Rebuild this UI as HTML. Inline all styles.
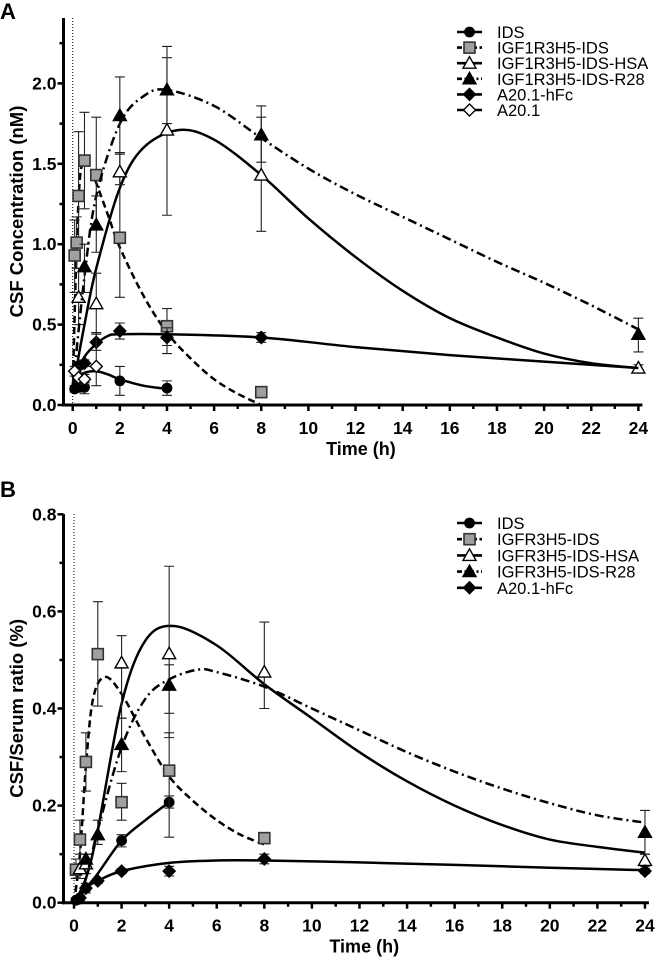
<!DOCTYPE html>
<html><head><meta charset="utf-8">
<style>
html,body{margin:0;padding:0;background:#fff;}
svg{display:block;font-family:"Liberation Sans",Arial,sans-serif;}
</style></head>
<body>
<svg id="chart" width="655" height="961" viewBox="0 0 655 961"></svg>
<script>
// ---------- Panel A data ----------
const aIDS_t=[0.083,0.25,0.5,2,4], aIDS_v=[0.10,0.11,0.11,0.15,0.105], aIDS_hi=[0.12,0.13,0.14,0.24,0.15], aIDS_lo=[0.08,0.08,0.07,0.06,0.06];
const aIDS_ct=[0,0.25,0.5,1,1.5,2,3,4], aIDS_cv=[0.1,0.17,0.2,0.21,0.19,0.16,0.12,0.10];
const aSQ_t=[0.083,0.167,0.25,0.5,1,2,4,8], aSQ_v=[0.93,1.01,1.30,1.52,1.43,1.04,0.49,0.08], aSQ_hi=[1.15,1.17,1.70,1.82,1.79,1.57,0.60,0.08], aSQ_lo=[0.7,0.85,1.0,1.22,1.1,0.67,0.37,0.08];
const aSQ_ct=[0,0.15,0.3,0.5,0.7,1,1.5,2,3,4,5,6,7,8], aSQ_cv=[0.1,0.9,1.4,1.52,1.48,1.38,1.18,0.98,0.68,0.45,0.29,0.16,0.07,0.0];
const aHSA_t=[0.25,1,2,4,8,24], aHSA_v=[0.67,0.63,1.45,1.71,1.43,0.23], aHSA_hi=[0.85,0.82,1.57,2.16,1.79,0.25], aHSA_lo=[0.5,0.45,1.37,1.18,1.08,0.21];
const aHSA_ct=[0,0.5,1,2,3,4.5,6,8,10,12,14,16,18,20,22,24], aHSA_cv=[0.1,0.5,0.85,1.35,1.6,1.71,1.65,1.43,1.16,0.92,0.71,0.54,0.42,0.32,0.26,0.23];
const aR28_t=[0.5,1,2,4,8,24], aR28_v=[0.86,1.12,1.80,1.96,1.68,0.44], aR28_hi=[1.0,1.3,2.04,2.23,1.86,0.54], aR28_lo=[0.7,0.95,1.56,1.75,1.51,0.33];
const aR28_ct=[0,0.5,1,2,3,4,6,8,10,12,14,16,18,20,22,24], aR28_cv=[0.1,0.8,1.3,1.75,1.92,1.96,1.86,1.66,1.47,1.31,1.17,1.03,0.89,0.76,0.62,0.47];
const aFC_t=[0.25,0.5,1,2,4,8], aFC_v=[0.24,0.26,0.39,0.46,0.42,0.42], aFC_hi=[0.26,0.28,0.44,0.51,0.48,0.45], aFC_lo=[0.22,0.24,0.34,0.41,0.32,0.39];
const aFC_ct=[0,0.5,1,1.5,2,4,8,12,16,20,24], aFC_cv=[0.15,0.3,0.38,0.43,0.44,0.44,0.42,0.36,0.31,0.27,0.23];
const aA20_t=[0.083,0.25,0.5,1], aA20_v=[0.21,0.17,0.16,0.24], aA20_hi=[0.24,0.2,0.19,0.45], aA20_lo=[0.18,0.14,0.13,0.12];
const aTicksY=[0,0.5,1.0,1.5,2.0], aTickLabelsY=["0.0","0.5","1.0","1.5","2.0"];
const xTicks=[0,2,4,6,8,10,12,14,16,18,20,22,24];
const aLegend=["IDS","IGF1R3H5-IDS","IGF1R3H5-IDS-HSA","IGF1R3H5-IDS-R28","A20.1-hFc","A20.1"];
// ---------- Panel B data ----------
const bIDS_t=[0.083,0.25,0.5,2,4], bIDS_v=[0.005,0.01,0.03,0.128,0.207], bIDS_hi=[0.01,0.015,0.04,0.14,0.22], bIDS_lo=[0,0.005,0.02,0.115,0.195];
const bIDS_ct=[0,0.5,1,2,3,4], bIDS_cv=[0,0.03,0.06,0.128,0.17,0.207];
const bSQ_t=[0.083,0.25,0.5,1,2,4,8], bSQ_v=[0.068,0.13,0.29,0.512,0.207,0.272,0.133], bSQ_hi=[0.09,0.17,0.35,0.62,0.246,0.35,0.133], bSQ_lo=[0.05,0.1,0.23,0.405,0.17,0.135,0.133];
const bSQ_ct=[0,0.25,0.5,0.8,1.3,2,3,4,5,6,7,8], bSQ_cv=[0,0.1,0.28,0.42,0.465,0.43,0.34,0.26,0.21,0.17,0.14,0.12];
const bHSA_t=[0.25,0.5,2,4,8,24], bHSA_v=[0.07,0.08,0.494,0.513,0.475,0.087], bHSA_hi=[0.09,0.1,0.55,0.693,0.578,0.1], bHSA_lo=[0.05,0.06,0.38,0.34,0.4,0.075];
const bHSA_ct=[0,0.5,1,2,3,4.2,6,8,10,12,14,16,18,20,22,24], bHSA_cv=[0,0.05,0.15,0.41,0.54,0.57,0.53,0.45,0.38,0.31,0.25,0.2,0.16,0.13,0.115,0.103];
const bR28_t=[0.5,1,2,4,24], bR28_v=[0.09,0.14,0.326,0.448,0.145], bR28_hi=[0.1,0.17,0.38,0.49,0.19], bR28_lo=[0.08,0.12,0.27,0.39,0.1];
const bR28_ct=[0,0.5,1,2,3,4,5.2,6,8,10,12,14,16,18,20,22,24], bR28_cv=[0,0.05,0.15,0.32,0.42,0.46,0.48,0.475,0.445,0.40,0.355,0.31,0.27,0.235,0.205,0.18,0.165];
const bFC_t=[0.25,0.5,1,2,4,8,24], bFC_v=[0.01,0.03,0.045,0.065,0.065,0.09,0.065], bFC_hi=[0.015,0.035,0.05,0.07,0.075,0.1,0.07], bFC_lo=[0.005,0.025,0.04,0.06,0.055,0.08,0.06];
const bFC_ct=[0,0.5,1,2,4,6,8,12,16,20,24], bFC_cv=[0,0.03,0.045,0.065,0.082,0.087,0.087,0.083,0.078,0.072,0.067];
const bTicksY=[0,0.2,0.4,0.6,0.8], bTickLabelsY=["0.0","0.2","0.4","0.6","0.8"];
const bLegend=["IDS","IGFR3H5-IDS","IGFR3H5-IDS-HSA","IGFR3H5-IDS-R28","A20.1-hFc"];

const NS="http://www.w3.org/2000/svg";
const svg=document.getElementById('chart');
function el(tag,attrs,parent){const e=document.createElementNS(NS,tag);for(const k in attrs)e.setAttribute(k,attrs[k]);(parent||svg).appendChild(e);return e;}

function smoothPath(pts){
  let d="M"+pts[0][0]+","+pts[0][1];
  for(let i=0;i<pts.length-1;i++){
    const p0=pts[i-1]||pts[i],p1=pts[i],p2=pts[i+1],p3=pts[i+2]||p2;
    const c1x=p1[0]+(p2[0]-p0[0])/6,c1y=p1[1]+(p2[1]-p0[1])/6;
    const c2x=p2[0]-(p3[0]-p1[0])/6,c2y=p2[1]-(p3[1]-p1[1])/6;
    d+=` C${c1x},${c1y} ${c2x},${c2y} ${p2[0]},${p2[1]}`;
  }
  return d;
}
function marker(g,type,x,y){
  let m;
  if(type==="circle")m=el('circle',{cx:x,cy:y,r:5.4,fill:'#000'},g);
  else if(type==="square")m=el('rect',{x:x-5.5,y:y-5.5,width:11,height:11,fill:'#a0a0a0',stroke:'#333','stroke-width':1.6},g);
  else if(type==="tri-open"||type==="tri")m=el('polygon',{points:`${x},${y-6.5} ${x+6.5},${y+5} ${x-6.5},${y+5}`,fill:type==="tri"?'#000':'#fff',stroke:'#000','stroke-width':1.4},g);
  else m=el('polygon',{points:`${x},${y-6} ${x+6},${y} ${x},${y+6} ${x-6},${y}`,fill:type==="dia"?'#000':'#fff',stroke:'#000','stroke-width':1.4},g);
  return m;
}
const dashes={solid:null,dash:"7,4",dashdot:"9,4,2,4"};

function panel(o){
  const g=el('g',{});
  
  
  const X=t=>o.x0+t*o.xs, Y=v=>o.y0-v*o.ys;
  const lbl=el('text',{x:0,y:o.labelY,'font-size':22,'font-weight':'bold'},g);lbl.textContent=o.letter;
  
  const dl=el('line',{x1:X(0),x2:X(0),y1:o.top,y2:o.y0,stroke:'#000','stroke-width':1,'stroke-dasharray':'1,2'},g);
  
  const ya=el('line',{x1:o.ax,x2:o.ax,y1:o.top,y2:o.y0+1.5,stroke:'#000','stroke-width':3},g);
  
  const xa=el('line',{x1:o.ax-1.5,x2:X(24)+4,y1:o.y0,y2:o.y0,stroke:'#000','stroke-width':3},g);
  
  o.yticks.forEach((v,i)=>{
    el('line',{x1:o.ax-6,x2:o.ax,y1:Y(v),y2:Y(v),stroke:'#000','stroke-width':2.5},g);
    const t=el('text',{x:o.ax-7,y:Y(v)+6,'font-size':17.5,'font-weight':'bold','text-anchor':'end'},g);t.textContent=o.ylabels[i];
    
  });
  for(let v=o.minor;v<=o.ymaxTick+1e-9;v+=o.minor*2){
    el('line',{x1:o.ax-4,x2:o.ax,y1:Y(v),y2:Y(v),stroke:'#000','stroke-width':2.5},g);
  }
  for(let t=0;t<=24;t++){
    el('line',{x1:X(t),x2:X(t),y1:o.y0,y2:o.y0+(t%2?4:6),stroke:'#000','stroke-width':2.5},g);
  }
  xTicks.forEach(t=>{
    const tx=el('text',{x:X(t),y:o.y0+29,'font-size':17.5,'font-weight':'bold','text-anchor':'middle'},g);tx.textContent=t;
    
  });
  const xt=el('text',{x:(o.ax+X(24))/2+10,y:o.y0+50,'font-size':18,'font-weight':'bold','text-anchor':'middle'},g);xt.textContent="Time (h)";
  
  const cy=(o.top+o.y0)/2;
  const yt=el('text',{x:0,y:0,'font-size':18.5,'font-weight':'bold','text-anchor':'middle',transform:`translate(${o.ytx},${cy}) rotate(-90)`},g);yt.textContent=o.ytitle;
  
  o.series.forEach(s=>{
    const sg=el('g',{},g);
    
    
    if(s.ct){
      const p=el('path',{d:smoothPath(s.ct.map((t,i)=>[X(t),Y(s.cv[i])])),fill:'none',stroke:'#000','stroke-width':2.5},sg);
      if(dashes[s.dash])p.setAttribute('stroke-dasharray',dashes[s.dash]);
      
    }
    s.t.forEach((t,i)=>{
      const x=X(t);
      const eb=el('path',{d:`M${x},${Y(s.hi[i])}V${Y(s.lo[i])}M${x-5},${Y(s.hi[i])}H${x+5}M${x-5},${Y(s.lo[i])}H${x+5}`,stroke:'#222','stroke-width':1.1,fill:'none'},sg);
      
    });
    s.t.forEach((t,i)=>{
      const m=marker(sg,s.m,X(t),Y(s.v[i]));
      
      
    });
  });
  const lg=el('g',{},g);
  
  o.legend.forEach((name,i)=>{
    const s=o.series[i]||o.extraLegend;
    const y=o.legY+i*o.legStep;
    const row=el('g',{},lg);
    
    const ln=el('line',{x1:457,x2:482,y1:y,y2:y,stroke:'#000','stroke-width':2.6},row);
    if(s.dash==="dash")ln.setAttribute('stroke-dasharray','5,2.5');
    if(s.dash==="dashdot")ln.setAttribute('stroke-dasharray','5,2.5,2,2.5');
    marker(row,s.m,469.5,y);
    const tx=el('text',{x:497,y:y+6,'font-size':16.5},row);tx.textContent=name;
  });
}

panel({name:'panel-a',letter:'A',labelY:19,x0:72.7,xs:23.57,y0:405,ys:160.8,ax:63.5,top:18,
  yticks:aTicksY,ylabels:aTickLabelsY,minor:0.25,ymaxTick:2.26,ytx:23,ytitle:"CSF Concentration (nM)",
  legend:aLegend,legY:32,legStep:15.6,
  extraLegend:{m:'dia-open',dash:'solid'},
  series:[
    {key:'ids',m:'circle',dash:'solid',t:aIDS_t,v:aIDS_v,hi:aIDS_hi,lo:aIDS_lo,ct:aIDS_ct,cv:aIDS_cv},
    {key:'igf1r3h5-ids',m:'square',dash:'dash',t:aSQ_t,v:aSQ_v,hi:aSQ_hi,lo:aSQ_lo,ct:aSQ_ct,cv:aSQ_cv},
    {key:'igf1r3h5-ids-hsa',m:'tri-open',dash:'solid',t:aHSA_t,v:aHSA_v,hi:aHSA_hi,lo:aHSA_lo,ct:aHSA_ct,cv:aHSA_cv},
    {key:'igf1r3h5-ids-r28',m:'tri',dash:'dashdot',t:aR28_t,v:aR28_v,hi:aR28_hi,lo:aR28_lo,ct:aR28_ct,cv:aR28_cv},
    {key:'a20-1-hfc',m:'dia',dash:'solid',t:aFC_t,v:aFC_v,hi:aFC_hi,lo:aFC_lo,ct:aFC_ct,cv:aFC_cv},
    {key:'a20-1',m:'dia-open',dash:'solid',t:aA20_t,v:aA20_v,hi:aA20_hi,lo:aA20_lo}
  ]});
panel({name:'panel-b',letter:'B',labelY:497,x0:74,xs:23.79,y0:902.7,ys:485.5,ax:63.5,top:514,
  yticks:bTicksY,ylabels:bTickLabelsY,minor:0.1,ymaxTick:0.71,ytx:23,ytitle:"CSF/Serum ratio (%)",
  legend:bLegend,legY:523,legStep:16.2,
  series:[
    {key:'ids',m:'circle',dash:'solid',t:bIDS_t,v:bIDS_v,hi:bIDS_hi,lo:bIDS_lo,ct:bIDS_ct,cv:bIDS_cv},
    {key:'igfr3h5-ids',m:'square',dash:'dash',t:bSQ_t,v:bSQ_v,hi:bSQ_hi,lo:bSQ_lo,ct:bSQ_ct,cv:bSQ_cv},
    {key:'igfr3h5-ids-hsa',m:'tri-open',dash:'solid',t:bHSA_t,v:bHSA_v,hi:bHSA_hi,lo:bHSA_lo,ct:bHSA_ct,cv:bHSA_cv},
    {key:'igfr3h5-ids-r28',m:'tri',dash:'dashdot',t:bR28_t,v:bR28_v,hi:bR28_hi,lo:bR28_lo,ct:bR28_ct,cv:bR28_cv},
    {key:'a20-1-hfc',m:'dia',dash:'solid',t:bFC_t,v:bFC_v,hi:bFC_hi,lo:bFC_lo,ct:bFC_ct,cv:bFC_cv}
  ]});
</script>
</body></html>
